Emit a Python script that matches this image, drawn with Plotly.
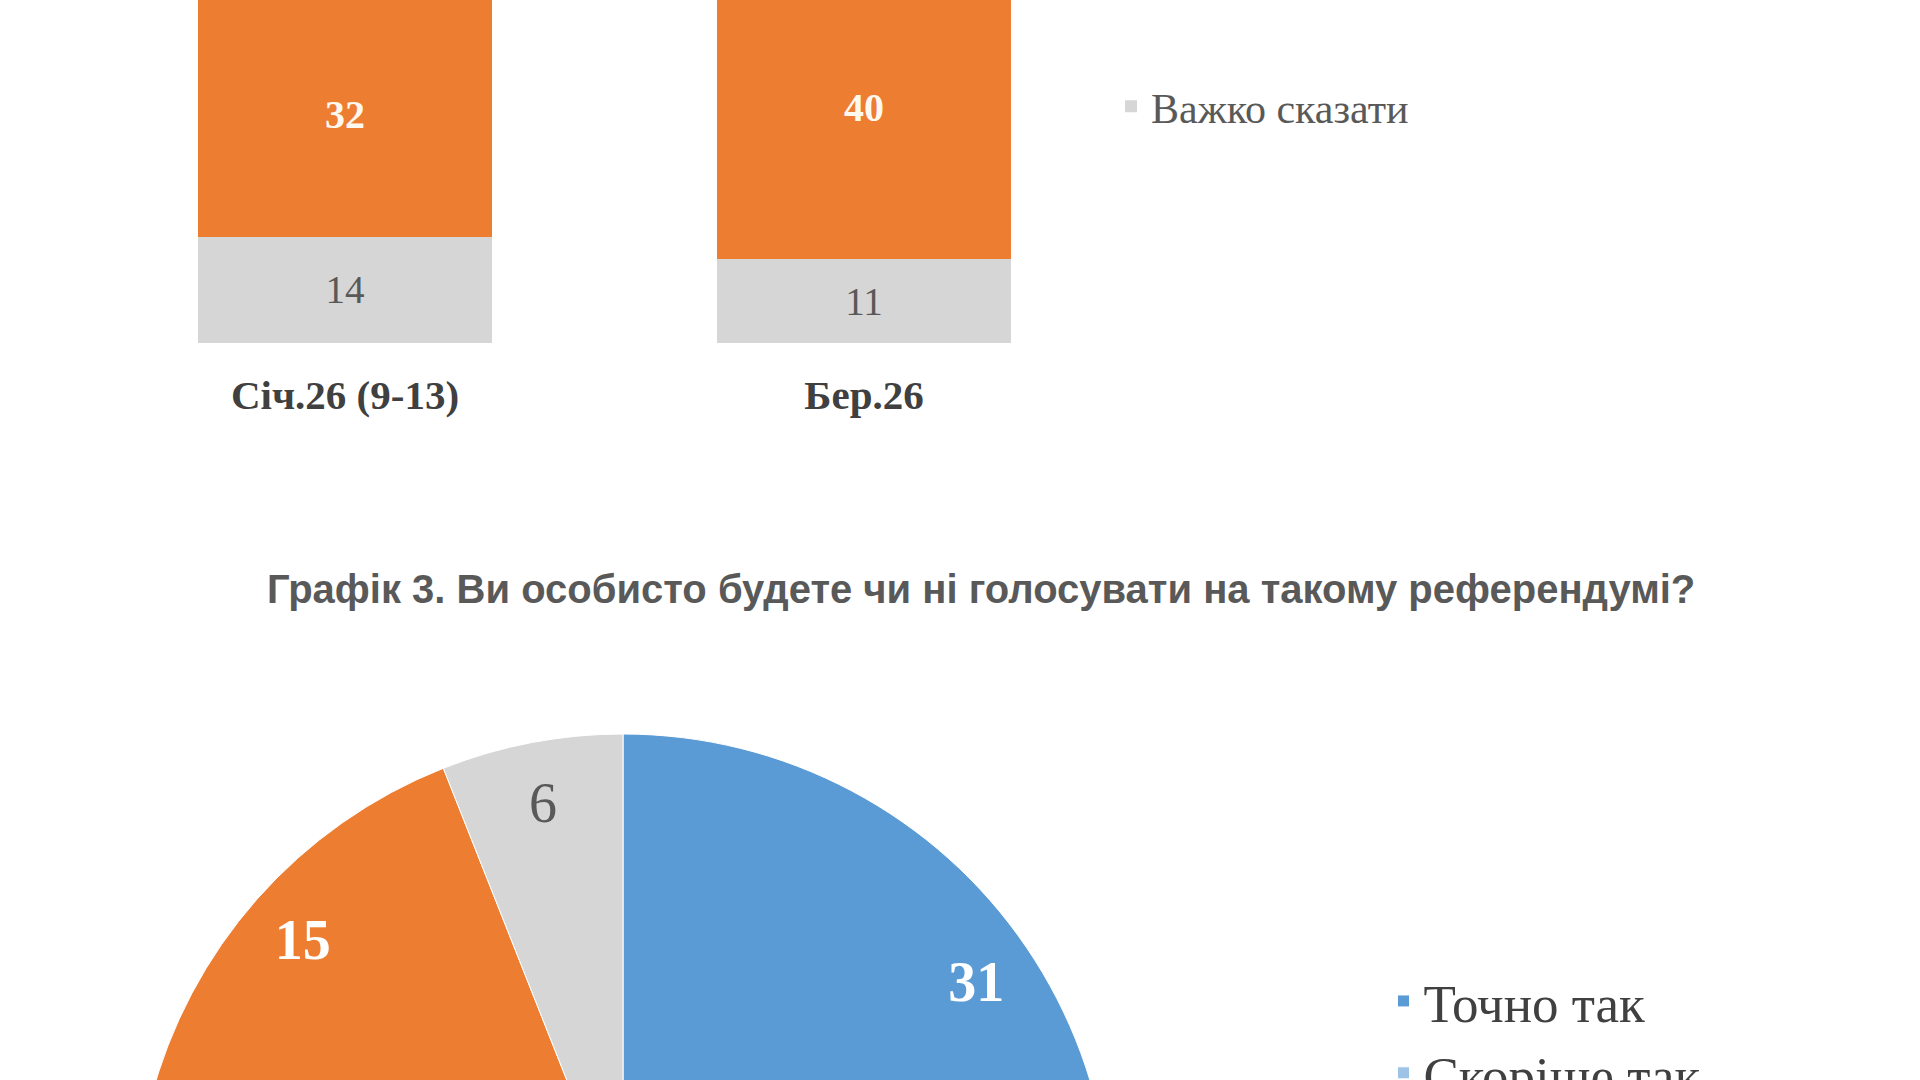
import plotly.graph_objects as go

# ---------------- data ----------------
bar_categories = ["Січ.26 (9-13)", "Бер.26"]
bar_hard_to_say = [14, 11]          # Важко сказати (grey, bottom)
bar_orange = [32, 40]               # orange segment (second from bottom)
bar_hard_name = "Важко сказати"
bar_orange_name = "Ні"

pie_title = "Графік 3. Ви особисто будете чи ні голосувати на такому референдумі?"
pie_labels = ["Точно так", "Скоріше так", "Скоріше ні", "Точно ні", "Важко сказати"]
pie_values = [31, 30, 18, 15, 6]

# ---------------- style ----------------
W, H = 1920, 1720
BLUE = "#5B9BD5"
ORANGE = "#ED7D31"
GREY = "#D6D6D6"
LBLUE = "#9DC3E6"
LORANGE = "#F4B183"
TXT_GREY = "#595959"
SERIF = "Liberation Serif, Times New Roman, serif"
SANS = "Liberation Sans, Arial, sans-serif"

PIE_CX, PIE_CY, PIE_R = 623, 1222, 488
pie_domain = dict(x=[(PIE_CX - PIE_R) / W, (PIE_CX + PIE_R) / W],
                  y=[(H - PIE_CY - PIE_R) / H, (H - PIE_CY + PIE_R) / H])

fig = go.Figure()

fig.add_trace(go.Bar(
    x=bar_categories, y=bar_hard_to_say, name=bar_hard_name,
    marker=dict(color=GREY, line=dict(width=0)),
    texttemplate="%{y}", textposition="inside", insidetextanchor="middle",
    textangle=0, constraintext="none",
    insidetextfont=dict(family=SERIF, size=39, color=TXT_GREY),
    legend="legend", showlegend=True, cliponaxis=True,
))
fig.add_trace(go.Bar(
    x=bar_categories, y=bar_orange, name=bar_orange_name,
    marker=dict(color=ORANGE, line=dict(width=0)),
    texttemplate="%{y}", textposition="inside", insidetextanchor="middle",
    textangle=0, constraintext="none",
    insidetextfont=dict(family=SERIF, size=40, color="#FFF8EE", weight="bold"),
    legend="legend", showlegend=False, cliponaxis=True,
))

# filled pie (no text)
fig.add_trace(go.Pie(
    labels=pie_labels, values=pie_values, sort=False, direction="clockwise",
    rotation=0,
    marker=dict(colors=[BLUE, LBLUE, LORANGE, ORANGE, GREY],
                line=dict(color="white", width=1)),
    textinfo="none",
    domain=pie_domain,
    legend="legend2", showlegend=True, hoverinfo="label+value",
))
# transparent ring carrying the value labels near the outer edge (like Excel's data labels)
fig.add_trace(go.Pie(
    labels=pie_labels, values=pie_values, sort=False, direction="clockwise",
    rotation=0, hole=0.75,
    marker=dict(colors=["rgba(0,0,0,0)"] * len(pie_values),
                line=dict(color="rgba(0,0,0,0)", width=0)),
    texttemplate="%{value}", textposition="inside",
    insidetextorientation="horizontal",
    insidetextfont=dict(family=SERIF, size=56,
                        color=["white", "white", "white", "white", TXT_GREY],
                        weight=["bold", "bold", "bold", "bold", "normal"]),
    domain=pie_domain,
    showlegend=False, hoverinfo="skip",
))

fig.update_layout(
    width=W, height=H,
    margin=dict(l=0, r=0, t=0, b=0, autoexpand=False),
    paper_bgcolor="white", plot_bgcolor="white",
    barmode="stack", bargap=0.433,
    xaxis=dict(domain=[85.5 / W, 1123.5 / W], showline=False, showgrid=False,
               zeroline=False, ticks="", ticklabelstandoff=24,
               tickfont=dict(family=SERIF, size=41, color="#404040", weight="bold")),
    yaxis=dict(domain=[1 - 343 / H, 1], range=[0, 45.1], visible=False),
    legend=dict(x=1111 / W, xanchor="left", y=1 - 106.5 / H, yanchor="middle",
                font=dict(family=SERIF, size=42, color=TXT_GREY),
                bgcolor="rgba(0,0,0,0)"),
    legend2=dict(x=1383.5 / W, xanchor="left", y=1 - 960 / H, yanchor="top",
                 font=dict(family=SERIF, size=53, color="#404040"),
                 bgcolor="rgba(0,0,0,0)"),
    annotations=[dict(text=pie_title, x=981 / W, y=1 - 589 / H,
                      xref="paper", yref="paper", xanchor="center", yanchor="middle",
                      showarrow=False,
                      font=dict(family=SANS, size=40, color=TXT_GREY, weight="bold"))],
    showlegend=True,
)

fig.write_html("out.html", config=dict(displayModeBar=False),
               post_script="document.body.style.margin='0';document.body.style.overflow='hidden';")
